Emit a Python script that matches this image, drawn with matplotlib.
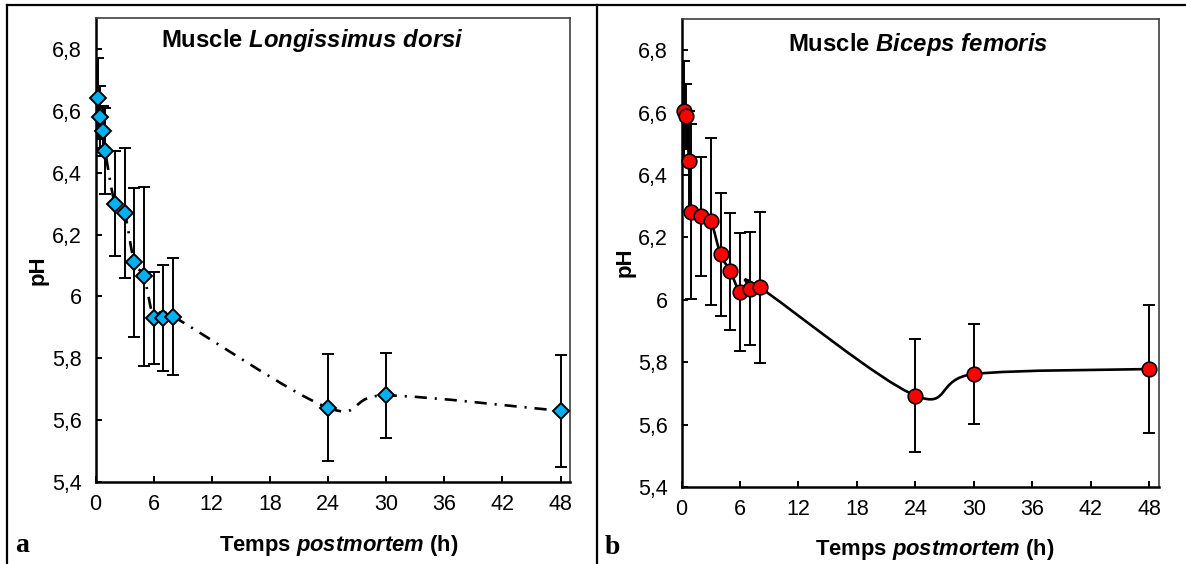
import numpy as np
import matplotlib
matplotlib.use("Agg")
import matplotlib.pyplot as plt
from matplotlib.path import Path
from matplotlib.patches import PathPatch
from matplotlib.lines import Line2D

plt.rcParams['font.family'] = ['Liberation Sans', 'DejaVu Sans']
plt.rcParams['mathtext.fontset'] = 'custom'
plt.rcParams['mathtext.rm'] = 'Liberation Sans:bold'
plt.rcParams['mathtext.it'] = 'Liberation Sans:italic:bold'
plt.rcParams['mathtext.bf'] = 'Liberation Sans:bold'

# ---------------- data ----------------
hours = [0.25, 0.5, 0.75, 1, 2, 3, 4, 5, 6, 7, 8, 24, 30, 48]

ph_ld = [6.64, 6.58, 6.535, 6.47, 6.30, 6.27, 6.11, 6.065, 5.93, 5.93, 5.935, 5.64, 5.68, 5.63]
err_ld = [0.13, 0.10, 0.08, 0.14, 0.17, 0.21, 0.24, 0.29, 0.15, 0.17, 0.19, 0.173, 0.138, 0.18]

ph_bf = [6.604, 6.588, 6.446, 6.283, 6.267, 6.251, 6.146, 6.091, 6.025, 6.036, 6.04, 5.693, 5.762, 5.778]
err_bf = [0.16, 0.105, 0.16, 0.28, 0.19, 0.267, 0.197, 0.187, 0.188, 0.181, 0.243, 0.181, 0.16, 0.205]

x_ticks = [0, 6, 12, 18, 24, 30, 36, 42, 48]
y_ticks = [5.4, 5.6, 5.8, 6.0, 6.2, 6.4, 6.6, 6.8]
y_tick_labels = ["5,4", "5,6", "5,8", "6", "6,2", "6,4", "6,6", "6,8"]

title_a = r"Muscle $\it{Longissimus\ dorsi}$"
title_b = r"Muscle $\it{Biceps\ femoris}$"
xlabel = r"Temps $\it{postmortem}$ (h)"
ylabel = "pH"

W, H = 1186, 564


def smooth_path(xs, ys):
    """Excel-like smoothed line: cubic Bezier segments (Catmull-Rom control points)."""
    pts = np.column_stack([xs, ys]).astype(float)
    n = len(pts)
    verts = [pts[0]]
    codes = [Path.MOVETO]
    for i in range(n - 1):
        p0 = pts[i - 1] if i > 0 else pts[i]
        p1 = pts[i]
        p2 = pts[i + 1]
        p3 = pts[i + 2] if i + 2 < n else pts[i + 1]
        c1 = p1 + (p2 - p0) / 6.0
        c2 = p2 - (p3 - p1) / 6.0
        verts += [c1, c2, p2]
        codes += [Path.CURVE4] * 3
    return Path(verts, codes)


fig = plt.figure(figsize=(W / 100, H / 100), dpi=100)

axA = fig.add_axes([95.5 / W, 1 - 482 / H, (570.3 - 95.5) / W, (482 - 18) / H])
axB = fig.add_axes([681.6 / W, 1 - 487 / H, (1158.9 - 681.6) / W, (487 - 19) / H])


def style_axis(ax):
    ax.set_xlim(0, 49)
    ax.set_ylim(5.4, 6.9)
    ax.set_xticks(x_ticks)
    ax.set_xticklabels([str(t) for t in x_ticks])
    ax.set_yticks(y_ticks)
    ax.set_yticklabels(y_tick_labels)
    ax.tick_params(axis='both', direction='in', length=4.5, width=1.4,
                   labelsize=15.5, colors='black')
    ax.tick_params(axis='y', pad=10)
    ax.tick_params(axis='x', pad=8.5)
    for s in ['left', 'bottom']:
        ax.spines[s].set_linewidth(1.8)
        ax.spines[s].set_color('black')
    for s in ['top', 'right']:
        ax.spines[s].set_linewidth(1.2)
        ax.spines[s].set_color('#404040')


# ---- panel a ----
style_axis(axA)
axA.errorbar(hours, ph_ld, yerr=err_ld, fmt='none', ecolor='black',
             elinewidth=1.4, capsize=4.3, capthick=1.4, zorder=2)
pa = PathPatch(smooth_path(hours, ph_ld), fill=False, edgecolor='black',
               linewidth=1.9, linestyle=(0, (4.6, 3.0, 0.8, 3.0)), zorder=2.5)
axA.add_patch(pa)
axA.plot(hours, ph_ld, linestyle='none', marker='D', markersize=8.5,
         markerfacecolor='#00B0F0', markeredgecolor='black',
         markeredgewidth=1.4, zorder=3, clip_on=False)

# ---- panel b ----
style_axis(axB)
axB.errorbar(hours, ph_bf, yerr=err_bf, fmt='none', ecolor='black',
             elinewidth=1.4, capsize=4.3, capthick=1.4, zorder=2)
pb = PathPatch(smooth_path(hours, ph_bf), fill=False, edgecolor='black',
               linewidth=1.9, linestyle='-', zorder=2.5)
axB.add_patch(pb)
axB.plot(hours, ph_bf, linestyle='none', marker='o', markersize=10.5,
         markerfacecolor='#FF0000', markeredgecolor='black',
         markeredgewidth=1.2, zorder=3, clip_on=False)


def ftext(px, py, s, **kw):
    fig.text(px / W, 1 - py / H, s, **kw)


ftext(312, 40, title_a, ha='center', va='center', fontsize=17.2, fontweight='bold')
ftext(918, 44, title_b, ha='center', va='center', fontsize=17.2, fontweight='bold')

ftext(339, 546, xlabel, ha='center', va='center', fontsize=15.8, fontweight='bold')
ftext(935, 549, xlabel, ha='center', va='center', fontsize=15.8, fontweight='bold')

ftext(38, 270, ylabel, ha='center', va='center', fontsize=16, fontweight='bold', rotation=90)
ftext(625, 262, ylabel, ha='center', va='center', fontsize=16, fontweight='bold', rotation=90)

ftext(22, 545, "a", ha='center', va='center', fontsize=20, fontweight='bold',
      family=['Liberation Serif', 'DejaVu Serif'])
ftext(612, 548, "b", ha='center', va='center', fontsize=20, fontweight='bold',
      family=['Liberation Serif', 'DejaVu Serif'])

# table-like border lines
def fline(x0, y0, x1, y1):
    fig.add_artist(Line2D([x0 / W, x1 / W], [1 - y0 / H, 1 - y1 / H],
                          transform=fig.transFigure, color='black', linewidth=1.6))

fline(7, 5, W, 5)
fline(7, 5, 7, H)
fline(597, 5, 597, H)

fig.savefig("out.png", dpi=100)
